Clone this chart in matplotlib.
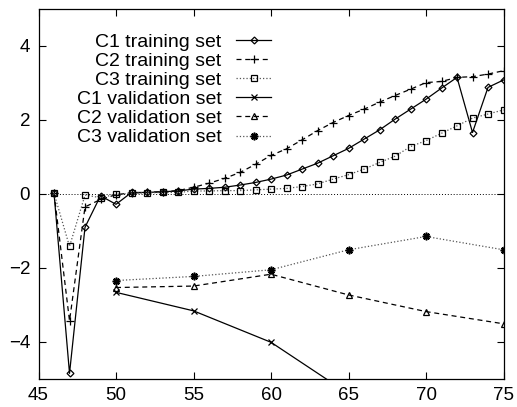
import numpy as np
import matplotlib
matplotlib.use("Agg")
import matplotlib.pyplot as plt

plt.rcParams['font.family'] = ['Liberation Sans', 'DejaVu Sans']

# training sets, one point per value 46..75
x_train = list(range(46, 76))
c1_train = [0.02, -4.85, -0.90, -0.05, -0.28, 0.04, 0.04, 0.06, 0.08, 0.13,
            0.15, 0.18, 0.24, 0.31, 0.40, 0.51, 0.67, 0.83, 1.03, 1.23,
            1.48, 1.73, 2.02, 2.29, 2.56, 2.86, 3.15, 1.66, 2.88, 3.08]
c2_train = [0.02, -3.43, -0.35, -0.15, -0.02, 0.03, 0.04, 0.06, 0.09, 0.18,
            0.29, 0.42, 0.58, 0.80, 1.04, 1.22, 1.46, 1.71, 1.93, 2.12,
            2.29, 2.48, 2.66, 2.83, 3.01, 3.04, 3.15, 3.17, 3.24, 3.33]
c3_train = [0.02, -1.42, -0.03, -0.10, -0.01, 0.02, 0.03, 0.04, 0.04, 0.08,
            0.08, 0.09, 0.09, 0.11, 0.13, 0.15, 0.20, 0.27, 0.40, 0.52,
            0.67, 0.85, 1.02, 1.28, 1.44, 1.64, 1.84, 2.05, 2.16, 2.27]

# validation sets, every 5
x_val = [50, 55, 60, 65, 70, 75]
c1_val = [-2.66, -3.16, -4.01, -5.4]
c2_val = [-2.53, -2.49, -2.17, -2.73, -3.18, -3.51]
c3_val = [-2.34, -2.23, -2.05, -1.51, -1.15, -1.51]

fig = plt.figure(figsize=(5.17, 4.07), dpi=100)
ax = fig.add_axes([0.0745, 0.069, 0.8994, 0.909])

ms = 4.5
lw = 0.9
ax.axhline(0, color='black', lw=0.7, ls=(0, (1, 2)))

ax.plot(x_train, c1_train, '-', color='black', lw=lw, marker='D', ms=ms - 1,
        mfc='none', mew=0.9, label='C1 training set')
ax.plot(x_train, c2_train, '--', color='black', lw=lw, marker='+', ms=ms + 1,
        mew=0.9, dashes=(4, 3), label='C2 training set')
ax.plot(x_train, c3_train, ':', color='#555555', lw=lw, marker='s', ms=ms + 0.5,
        mfc='none', mec='black', mew=0.9, label='C3 training set')
ax.plot(x_val[:len(c1_val)], c1_val, '-', color='black', lw=lw, marker='x',
        ms=ms, mew=0.9, label='C1 validation set')
ax.plot(x_val, c2_val, '--', color='black', lw=lw, marker='^', ms=ms,
        mfc='none', mew=0.9, dashes=(4, 3), label='C2 validation set')
ax.plot(x_val, c3_val, ':', color='#555555', lw=lw, marker=(8, 2, 0), ms=ms + 1,
        mec='black', mew=1.2, label='C3 validation set')

ax.set_xlim(45, 75)
ax.set_ylim(-5, 5)
ax.set_xticks(np.arange(45, 76, 5))
ax.set_yticks(np.arange(-4, 5, 2))
ax.tick_params(direction='in', length=5, width=0.8, labelsize=13.5,
               top=True, right=True, pad=6)
for s in ax.spines.values():
    s.set_linewidth(0.9)

ax.legend(loc='upper right', bbox_to_anchor=(0.50, 0.935), frameon=False,
          markerfirst=False, fontsize=14, handlelength=1.8,
          handletextpad=0.75, labelspacing=0.08, borderpad=0, borderaxespad=0)

fig.savefig('out.png', dpi=100)
